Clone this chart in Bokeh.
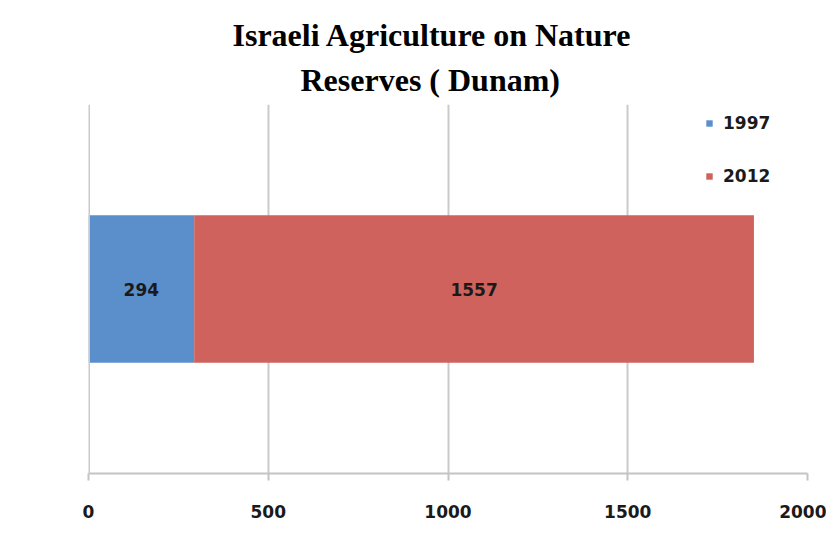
from bokeh.plotting import figure
from bokeh.models import ColumnDataSource, Range1d, FactorRange, Title, Legend, LegendItem, FixedTicker, Span
from bokeh.core.properties import value
from bokeh.embed import file_html
from bokeh.resources import INLINE

# ---- data ----
categories = ["Nature Reserves"]
years = ["1997", "2012"]
values_1997 = [294]
values_2012 = [1557]
x_ticks = [0, 500, 1000, 1500, 2000]
title_lines = ["Israeli Agriculture on Nature", "Reserves ( Dunam)"]
colors = ["#5A8FCB", "#CF625C"]

source = ColumnDataSource(data={"cat": categories, "1997": values_1997, "2012": values_2012})

p = figure(width=826, height=530, output_backend="svg", toolbar_location=None,
           x_range=Range1d(0, 2000), y_range=FactorRange(factors=categories),
           min_border_left=88, min_border_right=19, min_border_top=104, min_border_bottom=57)

# gridline at zero (left edge of plot area)
p.add_layout(Span(location=x_ticks[0], dimension="height", line_color="#cacaca", line_width=3))

renderers = p.hbar_stack(years, y="cat", height=0.4, color=colors, line_color=None, source=source)

# data labels at centre of each segment
left_vals = [0] + [values_1997[0]]
seg_vals = [values_1997[0], values_2012[0]]
lab_src = ColumnDataSource(data={
    "x": [l + v / 2 for l, v in zip(left_vals, seg_vals)],
    "y": categories * 2,
    "t": [str(v) for v in seg_vals],
})
p.text(x="x", y="y", text="t", source=lab_src, text_align="center", text_baseline="middle",
       text_font=value("DejaVu Sans"), text_font_style="bold", text_font_size="17px",
       text_color="#1a1a1a")

# legend
legend = Legend(items=[LegendItem(label=y, renderers=[r]) for y, r in zip(years, renderers)],
                location=(617, 287), margin=0, padding=0, spacing=33,
                glyph_width=8, glyph_height=8, label_height=20, label_standoff=10,
                label_text_font="DejaVu Sans", label_text_font_style="bold",
                label_text_font_size="17px", label_text_color="#1a1a1a",
                background_fill_alpha=0, border_line_color=None)
p.add_layout(legend)

# titles (second line added first so it sits nearest the plot)
title_offsets = [144, 212]
title_standoffs = [0, 14]
for line, off, so in reversed(list(zip(title_lines, title_offsets, title_standoffs))):
    p.add_layout(Title(text=line, align="left", offset=off, text_font="Liberation Serif",
                       text_font_style="bold", text_font_size="32px", text_color="#000000",
                       standoff=so), "above")

# axes and grid
p.yaxis.visible = False
p.ygrid.visible = False
p.xaxis.ticker = FixedTicker(ticks=x_ticks)
p.xaxis.axis_line_color = "#c4c4c4"
p.xaxis.axis_line_width = 2
p.xaxis.major_tick_line_color = "#c4c4c4"
p.xaxis.major_tick_line_width = 2
p.xaxis.major_tick_out = 7
p.xaxis.major_tick_in = 0
p.xaxis.minor_tick_line_color = None
p.xaxis.major_label_standoff = 24
p.xaxis.major_label_text_font = "DejaVu Sans"
p.xaxis.major_label_text_font_style = "bold"
p.xaxis.major_label_text_font_size = "17px"
p.xaxis.major_label_text_color = "#1a1a1a"
p.xgrid.grid_line_color = "#cacaca"
p.xgrid.grid_line_width = 2
p.outline_line_color = None

open("out.html", "w").write(file_html(p, INLINE))
